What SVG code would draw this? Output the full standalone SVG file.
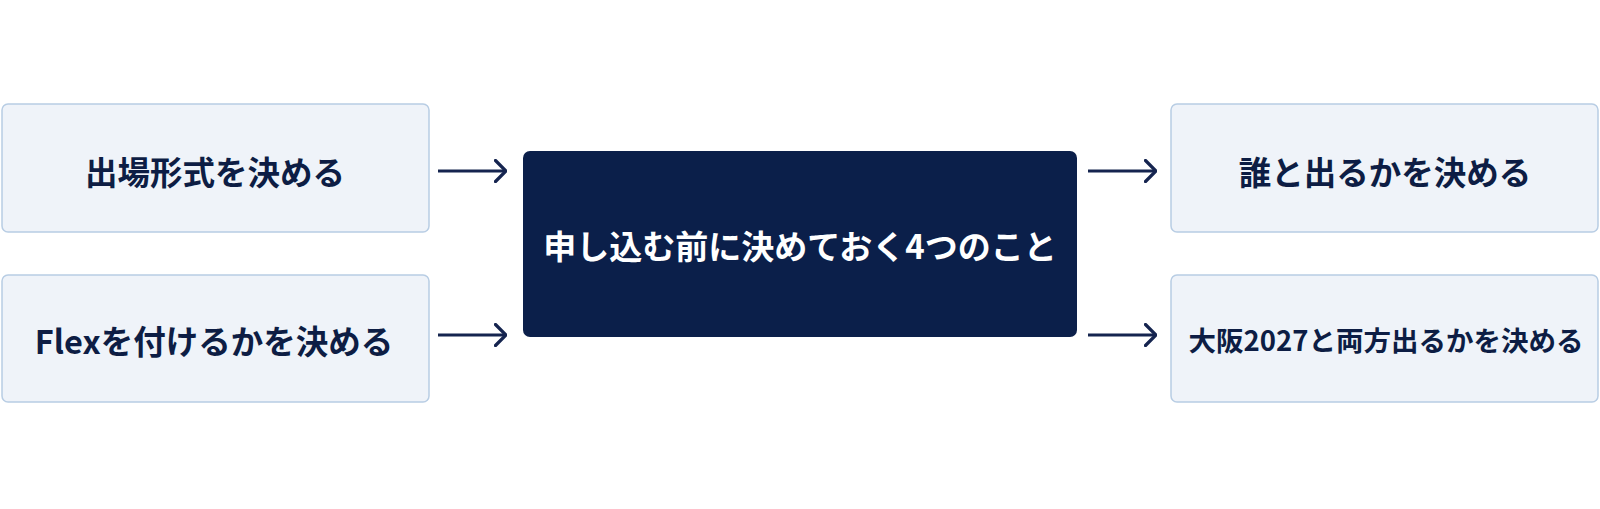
<svg xmlns="http://www.w3.org/2000/svg" width="1600" height="509" viewBox="0 0 1600 509">
<defs>
<style>
.box{fill:#eff3f9;stroke:#b8cde4;stroke-width:1.5}
.lbl{font-family:"Noto Sans CJK JP","Noto Sans",sans-serif;font-weight:bold;fill:#0d1d44;text-anchor:middle;dominant-baseline:central}
.conn{stroke:#15244f;stroke-width:3;fill:none}
</style>
<marker id="ah" viewBox="0 0 13 24" refX="12" refY="12" markerWidth="13" markerHeight="24" markerUnits="userSpaceOnUse" orient="auto">
<path d="M1.5,1.5 L12,12 L1.5,22.5" fill="none" stroke="#15244f" stroke-width="3.2" stroke-linecap="round" stroke-linejoin="round"/>
</marker>
</defs>
<rect width="1600" height="509" fill="#ffffff"/>
<g id="n1"><rect class="box" x="2" y="104" width="427" height="128" rx="6"/><text class="lbl" x="215" y="170" font-size="32.5">出場形式を決める</text></g>
<g id="n2"><rect class="box" x="2" y="275" width="427" height="127" rx="6"/><text class="lbl" x="214" y="339" font-size="32.5">Flexを付けるかを決める</text></g>
<g id="center"><rect x="523" y="151" width="554" height="186" rx="7" fill="#0b1f4a"/><text class="lbl" x="800" y="245" font-size="33" style="fill:#ffffff">申し込む前に決めておく4つのこと</text></g>
<g id="n3"><rect class="box" x="1171" y="104" width="427" height="128" rx="6"/><text class="lbl" x="1385" y="170" font-size="32.5">誰と出るかを決める</text></g>
<g id="n4"><rect class="box" x="1171" y="275" width="427" height="127" rx="6"/><text class="lbl" x="1386" y="339" font-size="27.5">大阪2027と両方出るかを決める</text></g>
<g id="connectors">
<line class="conn" x1="438" y1="171" x2="506" y2="171" marker-end="url(#ah)"/>
<line class="conn" x1="438" y1="335" x2="506" y2="335" marker-end="url(#ah)"/>
<line class="conn" x1="1088" y1="171" x2="1156" y2="171" marker-end="url(#ah)"/>
<line class="conn" x1="1088" y1="335" x2="1156" y2="335" marker-end="url(#ah)"/>
</g>
</svg>
